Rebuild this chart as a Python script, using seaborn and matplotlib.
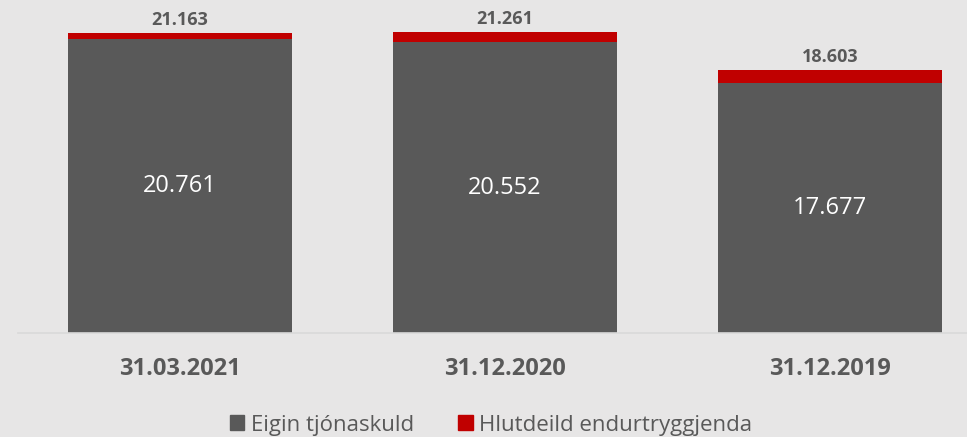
import numpy as np
import pandas as pd
import seaborn as sns
import matplotlib.pyplot as plt
from matplotlib.patches import Patch

# gögn
dates = ["31.03.2021", "31.12.2020", "31.12.2019"]
eigin = [20761, 20552, 17677]
hlutdeild = [402, 709, 926]
samtals = [a + b for a, b in zip(eigin, hlutdeild)]

bg = "#e7e6e6"
grey = "#595959"
red = "#c00000"

sns.set_theme(style="white")
plt.rcParams["font.family"] = ["Open Sans", "DejaVu Sans"]

df = pd.DataFrame({"date": dates, "eigin": eigin, "samtals": samtals})

fig = plt.figure(figsize=(9.67, 4.37), dpi=100, facecolor=bg)
ax = fig.add_axes([18 / 967, 104 / 437, 949 / 967, 333 / 437])
ax.set_facecolor(bg)

# rauði hlutinn = heildin, grái yfir
sns.barplot(data=df, x="date", y="samtals", color=red, saturation=1,
            width=0.69, ax=ax, linewidth=0)
sns.barplot(data=df, x="date", y="eigin", color=grey, saturation=1,
            width=0.69, ax=ax, linewidth=0)

for i in range(len(dates)):
    ax.text(i, eigin[i] / 2, f"{eigin[i]:,}".replace(",", "."),
            ha="center", va="center", color="white", fontsize=17)
    ax.annotate(f"{samtals[i]:,}".replace(",", "."), (i, samtals[i]),
                xytext=(0, 3), textcoords="offset points",
                ha="center", va="bottom", color=grey, fontsize=13,
                fontweight="bold")

ax.set_ylim(0, 23530)
ax.set_xlim(-0.498, 2.4215)
ax.set_xlabel("")
ax.set_ylabel("")
ax.set_yticks([])
ax.tick_params(axis="x", length=0, pad=17, labelsize=17, labelcolor=grey)
for t in ax.get_xticklabels():
    t.set_fontweight("bold")

for s in ["top", "right", "left"]:
    ax.spines[s].set_visible(False)
ax.spines["bottom"].set_color("#d9d9d9")
ax.spines["bottom"].set_linewidth(1.2)

handles = [Patch(color=grey, label="Eigin tjónaskuld"),
           Patch(color=red, label="Hlutdeild endurtryggjenda")]
fig.legend(handles=handles, loc="center", bbox_to_anchor=(491 / 967, 12 / 437),
           ncol=2, frameon=False, fontsize=16, labelcolor=grey,
           handlelength=0.65, handleheight=0.65, handletextpad=0.3,
           columnspacing=2.0)

fig.savefig("out.png", dpi=100, facecolor=bg)
